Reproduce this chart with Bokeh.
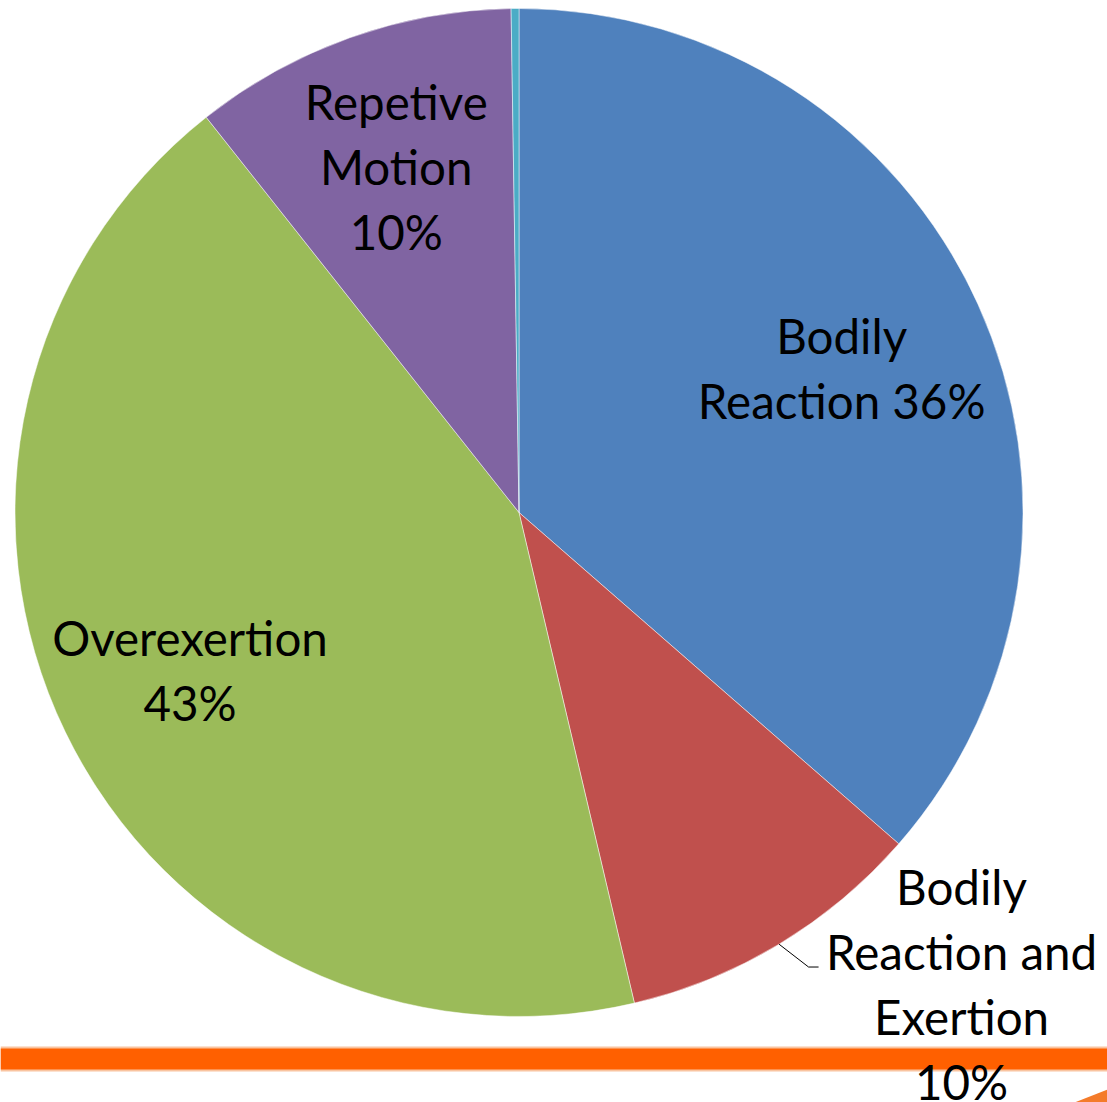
import numpy as np
from bokeh.plotting import figure
from bokeh.models import Range1d
from bokeh.embed import file_html
from bokeh.resources import INLINE
from bokeh.core.properties import value

# ---- data ----
categories = ["Bodily Reaction", "Bodily Reaction and Exertion", "Overexertion",
              "Repetive Motion", "Other"]
shares = [36.4, 9.9, 43.0, 10.4, 0.25]
# wrapped label names (as displayed) and joiner before the percentage
wrapped_names = ["Bodily\nReaction", "Bodily\nReaction and\nExertion", "Overexertion",
                 "Repetive\nMotion", ""]
joiners = [" ", "\n", "\n", "\n", ""]

# ---- style ----
colors = ["#4F81BD", "#C0504D", "#9BBB59", "#8064A2", "#4BACC6"]
FONT = "Lato"
FONT_SIZE = 47.5
LINE_H = 65
CAP_H = 32
BASELINE_FIX = -18
IMG_W, IMG_H = 1107, 1102
W, H = IMG_W, IMG_H
CX, CY_IMG, R = 518.5, 512.0, 504.0
label_r = [0.70, 1.286, 0.725, 0.725, 0.0]
label_dang = [0.6, -12.0, 0.0, 0.0, 0.0]
show_label = [True, True, True, True, False]
leader = [False, True, False, False, False]

def ydata(y_img):
    return IMG_H - y_img

p = figure(width=W, height=H, output_backend="svg", toolbar_location=None,
           x_range=Range1d(0, W), y_range=Range1d(0, H), min_border=0)
p.axis.visible = False
p.grid.visible = False
p.outline_line_color = None
p.background_fill_color = "white"
p.border_fill_color = "white"

vals = np.array(shares, dtype=float)
frac = vals / vals.sum()
cum = np.cumsum(frac)
start_theta = 360.0 * (cum - frac)
end_theta = 360.0 * cum
mid_theta = (start_theta + end_theta) / 2

start_angle = np.radians(90.0 - start_theta)
end_angle = np.radians(90.0 - end_theta)

CY = ydata(CY_IMG)
p.wedge(x=[CX] * len(vals), y=[CY] * len(vals), radius=R,
        start_angle=list(start_angle), end_angle=list(end_angle),
        direction="clock", fill_color=colors,
        line_color="white", line_width=0.8, line_alpha=0.6)

# orange decorative bar
p.quad(left=[0], right=[W], bottom=[ydata(1071)], top=[ydata(1046)],
       fill_color="#F9C4A0", line_color=None)
p.quad(left=[0], right=[W], bottom=[ydata(1069)], top=[ydata(1048)],
       fill_color="#FF6000", line_color=None)
# small decorative swoosh in the bottom-right corner
p.patch(x=[1074, W, W], y=[ydata(IMG_H), ydata(1089), ydata(IMG_H)],
        fill_color="#F47B2A", line_color=None)

# labels
xs, ys, txts = [], [], []
for i in range(len(vals)):
    if not show_label[i]:
        continue
    pct = int(round(vals[i]))
    label = f"{wrapped_names[i]}{joiners[i]}{pct}%"
    ang = np.radians(mid_theta[i] + label_dang[i])
    r = label_r[i] * R
    ax = CX + r * np.sin(ang)
    ay_img = CY_IMG - r * np.cos(ang)
    lines = label.split("\n")
    n = len(lines)
    span = (n - 1) * LINE_H + CAP_H
    first = ay_img - span / 2 + CAP_H + BASELINE_FIX
    for j, ln in enumerate(lines):
        xs.append(ax)
        ys.append(ydata(first + j * LINE_H))
        txts.append(ln)
    if leader[i]:
        mang = np.radians(mid_theta[i])
        sx = CX + R * np.sin(mang)
        sy = CY_IMG - R * np.cos(mang)
        ex = ax - 143
        ey = ay_img - 19
        p.line(x=[sx, ex - 10, ex], y=[ydata(sy), ydata(ey), ydata(ey)],
               line_color="black", line_width=1)

p.text(x=xs, y=ys, text=txts, text_font=value(FONT), text_font_size=f"{FONT_SIZE}px",
       text_align="center", text_baseline="alphabetic", text_color="black")

open("out.html", "w").write(file_html(p, INLINE))
